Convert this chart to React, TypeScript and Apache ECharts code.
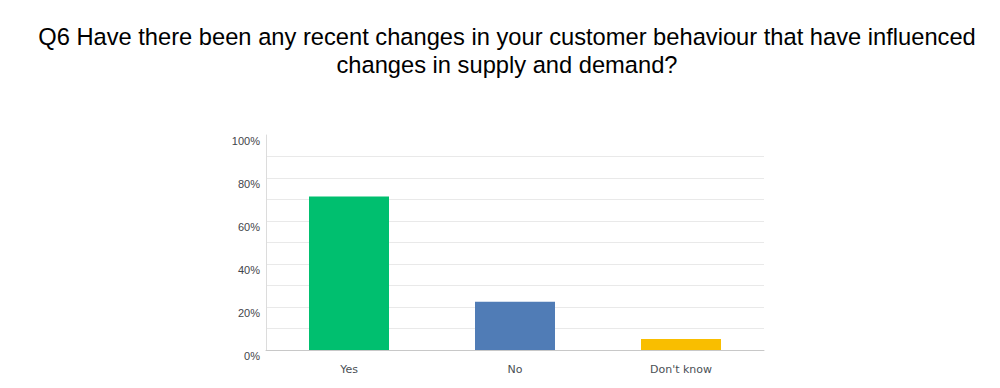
import React, { useEffect, useRef } from "react";
import * as echarts from "echarts";

const titleText =
  "Q6 Have there been any recent changes in your customer behaviour that have influenced\nchanges in supply and demand?";
const categories = ["Yes", "No", "Don't know"];
const values = [71.4, 22.4, 5.1];
const barColors = ["#00BF6F", "#507CB6", "#F9BE00"];

export default function App() {
  const ref = useRef<HTMLDivElement>(null);
  useEffect(() => {
    if (!ref.current) return;
    const chart = echarts.init(ref.current, undefined, { renderer: "svg" });
    const gridColors: string[] = [];
    for (let i = 0; i <= 10; i++) gridColors.push(i === 10 ? "rgba(0,0,0,0)" : "#e9e9e9");
    chart.setOption({
      animation: false,
      backgroundColor: "#ffffff",
      title: {
        text: titleText,
        left: 502,
        top: 18,
        textAlign: "center",
        textStyle: {
          fontFamily: "Liberation Sans, Arial, sans-serif",
          fontSize: 23.7,
          fontWeight: "normal",
          color: "#000000",
          lineHeight: 28,
        },
      },
      grid: { left: 266, right: 236, top: 135, bottom: 38, containLabel: false },
      xAxis: {
        type: "category",
        data: categories,
        axisLine: { show: true, lineStyle: { color: "#c8c8c8", width: 1 } },
        axisTick: { show: false },
        axisLabel: {
          color: "#4a4f55",
          fontFamily: "DejaVu Sans, sans-serif",
          fontSize: 11,
          margin: 14,
        },
      },
      yAxis: {
        type: "value",
        min: 0,
        max: 100,
        interval: 10,
        axisLine: { show: true, lineStyle: { color: "#dcdcdc", width: 1 } },
        axisTick: { show: false },
        splitLine: { show: true, lineStyle: { color: gridColors, width: 1 } },
        axisLabel: {
          color: "#3f444a",
          fontFamily: "Liberation Sans, Arial, sans-serif",
          fontSize: 11,
          margin: 6,
          verticalAlign: "top",
          formatter: (v: number) => (Math.round(v) % 20 === 0 ? `${v}%` : ""),
        },
      },
      series: [
        {
          type: "bar",
          data: values.map((v, i) => ({ value: v, itemStyle: { color: barColors[i] } })),
          barWidth: 80,
        },
      ],
    });
    return () => chart.dispose();
  }, []);
  return (
    <div
      ref={ref}
      style={{ position: "fixed", left: 0, top: 0, width: 1000, height: 388 }}
    />
  );
}
